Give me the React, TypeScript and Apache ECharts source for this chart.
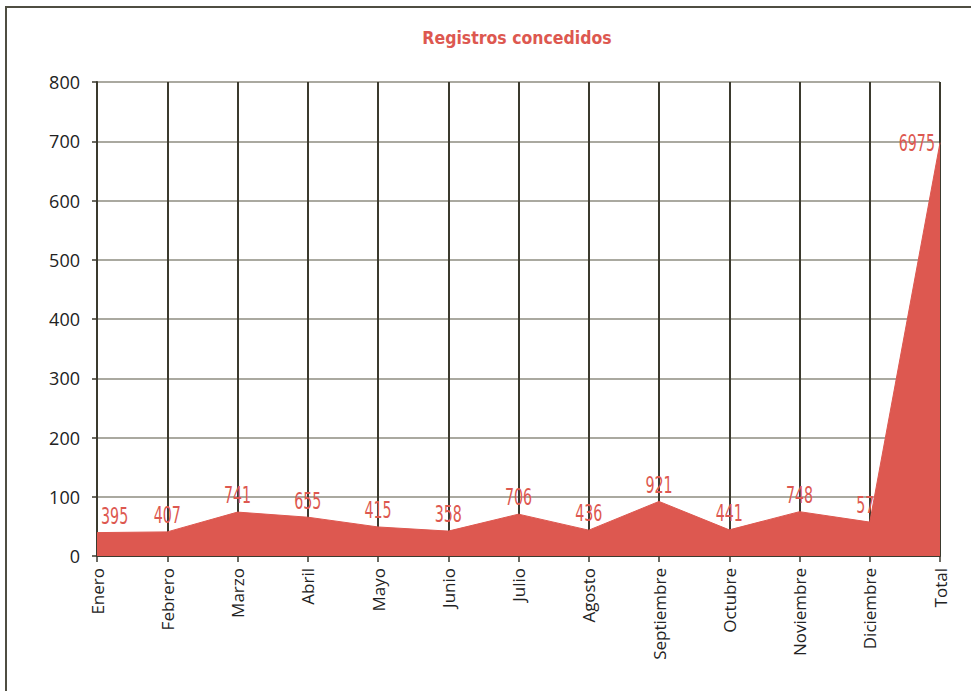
import React, { useEffect, useRef } from "react";
import * as echarts from "echarts";

const categories = ["Enero", "Febrero", "Marzo", "Abril", "Mayo", "Junio", "Julio", "Agosto", "Septiembre", "Octubre", "Noviembre", "Diciembre", "Total"];
// labels shown on the chart
const counts = [395, 407, 741, 655, 415, 358, 706, 436, 921, 441, 748, 572, 6975];
// heights as plotted on the 0-800 axis
const plotted = [39.5, 40.7, 74.1, 65.5, 49, 42, 70.6, 43.6, 92.1, 44.1, 74.8, 57.2, 697.5];
const yTicks = [0, 100, 200, 300, 400, 500, 600, 700, 800];

const RED = "#dd5850";
const DARK = "#3b3a2e";

export default function App() {
  const ref = useRef<HTMLDivElement>(null);
  useEffect(() => {
    if (!ref.current) return;
    const chart = echarts.init(ref.current, null, { renderer: "svg" });
    const titleFont = "'DejaVu Sans Condensed', 'Liberation Sans Narrow', sans-serif";
    chart.setOption({
      animation: false,
      backgroundColor: "#ffffff",
      title: {
        text: "Registros concedidos",
        left: 512,
        top: 24,
        textAlign: "center",
        textStyle: { color: RED, fontSize: 17.5, fontWeight: "bold", fontFamily: titleFont },
      },
      grid: { left: 97, right: 31, top: 82, bottom: 135, containLabel: false },
      xAxis: {
        type: "category",
        data: categories,
        boundaryGap: false,
        axisLine: { show: true, lineStyle: { color: DARK, width: 2 } },
        axisTick: { show: true, length: 6, lineStyle: { color: DARK, width: 1.5 } },
        splitLine: { show: true, lineStyle: { color: DARK, width: 2 } },
        axisLabel: {
          rotate: 90,
          margin: 12,
          color: "#222",
          fontSize: 17,
          fontFamily: "'Open Sans', 'Noto Sans', sans-serif",
        },
      },
      yAxis: {
        type: "value",
        min: 0,
        max: 800,
        interval: 100,
        axisLine: { show: true, lineStyle: { color: DARK, width: 2 } },
        axisTick: { show: true, length: 5, lineStyle: { color: DARK, width: 1.5 } },
        splitLine: { show: true, lineStyle: { color: "#8e8d80", width: 1.5 } },
        axisLabel: {
          margin: 17,
          color: "#222",
          fontSize: 18,
          fontFamily: "'Open Sans', 'Noto Sans', sans-serif",
          formatter: (v: number) => (yTicks.includes(v) ? String(v) : ""),
        },
      },
      series: [
        {
          type: "line",
          data: plotted,
          symbol: "none",
          lineStyle: { color: RED, width: 1 },
          areaStyle: { color: RED, opacity: 1 },
          itemStyle: { color: RED },
          z: 1,
        },
      ],
    });

    const last = plotted.length - 1;
    const texts = plotted.map((v, i) => {
      const p = chart.convertToPixel({ xAxisIndex: 0, yAxisIndex: 0 }, [i, v]) as number[];
      let x = p[0];
      let y = p[1] - 5;
      let align = "center";
      if (i === 0) {
        x = p[0] + 4;
        align = "left";
      } else if (i === last) {
        x = p[0] - 5;
        y = p[1] + 12;
        align = "right";
      }
      return {
        type: "text",
        x,
        y,
        scaleX: 0.62,
        z: 10,
        silent: true,
        style: {
          text: String(counts[i]),
          fill: RED,
          fontSize: 23,
          fontFamily: "'DejaVu Sans', sans-serif",
          align,
          verticalAlign: "bottom",
        },
      };
    });

    chart.setOption({
      graphic: [
        {
          type: "rect",
          shape: { x: 6, y: 7, width: 1000, height: 720 },
          style: { fill: "none", stroke: "#4f4e42", lineWidth: 2 },
          silent: true,
        },
        ...texts,
      ],
    });
    return () => chart.dispose();
  }, []);
  return <div ref={ref} style={{ position: "fixed", left: 0, top: 0, width: 971, height: 691 }} />;
}
